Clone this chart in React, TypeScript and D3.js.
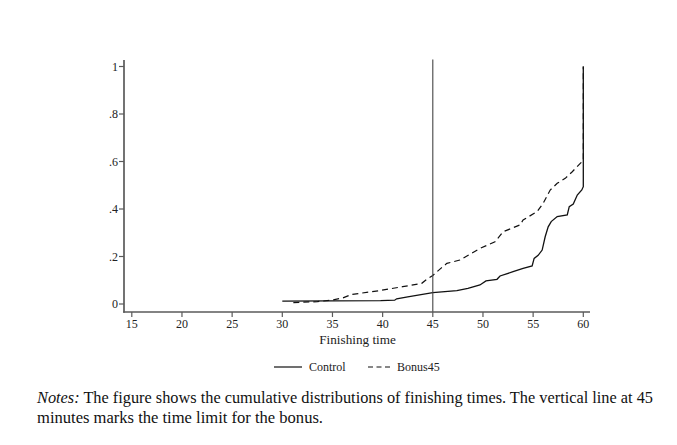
import React from "react";
import * as d3 from "d3";

// Cumulative share finished, by finishing time (minutes)
const controlTimes = [30, 39.8, 41.2, 41.4, 42.5, 45, 47.4, 48.5, 49.7, 50.3, 51.4, 51.7, 53.0, 54.0, 54.9, 55.1, 55.5, 55.9, 56.2, 56.5, 56.8, 57.4, 58.4, 58.6, 59.0, 59.4, 59.85, 60, 60];
const controlShare = [0.012, 0.014, 0.016, 0.022, 0.03, 0.048, 0.056, 0.066, 0.08, 0.097, 0.104, 0.118, 0.136, 0.15, 0.16, 0.192, 0.205, 0.227, 0.283, 0.325, 0.347, 0.368, 0.375, 0.41, 0.421, 0.459, 0.48, 0.494, 1.0];

const bonusTimes = [31.1, 33.5, 35, 36.0, 36.9, 39.8, 42.0, 43.9, 44.4, 45, 45.8, 46.4, 47.7, 49.7, 51.2, 52.0, 53.7, 54.0, 55.4, 56.0, 56.7, 57.4, 58.2, 58.9, 59.7, 60, 60];
const bonusShare = [0.006, 0.01, 0.017, 0.025, 0.04, 0.057, 0.073, 0.087, 0.104, 0.12, 0.15, 0.171, 0.185, 0.234, 0.262, 0.304, 0.333, 0.354, 0.389, 0.424, 0.48, 0.508, 0.529, 0.557, 0.592, 0.605, 1.0];

const xTicks = [15, 20, 25, 30, 35, 40, 45, 50, 55, 60];
const yTicks = [0, 0.2, 0.4, 0.6, 0.8, 1];
const bonusLimit = 45;

const seriesNames = ["Control", "Bonus45"];

const W = 677;
const H = 445;

export default function App() {
  const x = d3.scaleLinear().domain([15, 60]).range([131.8, 583.3]);
  const y = d3.scaleLinear().domain([0, 1]).range([304, 66.5]);

  const line = d3
    .line<[number, number]>()
    .x((d) => x(d[0]))
    .y((d) => y(d[1]));

  const controlPts = controlTimes.map((t, i) => [t, controlShare[i]] as [number, number]);
  const bonusPts = bonusTimes.map((t, i) => [t, bonusShare[i]] as [number, number]);

  const axisColor = "#5a5a5a";
  const font = "'Liberation Serif', 'Times New Roman', serif";
  const axisX = 124;
  const axisY = 312;

  const fmtY = (v: number) => (v === 0 ? "0" : v === 1 ? "1" : d3.format(".1f")(v).replace(/^0/, ""));

  return (
    <svg
      width={W}
      height={H}
      viewBox={`0 0 ${W} ${H}`}
      style={{ position: "absolute", left: 0, top: 0, background: "#fff" }}
      fontFamily={font}
    >
      <rect width={W} height={H} fill="#fff" />

      {/* curves */}
      <path d={line(bonusPts) || ""} fill="none" stroke="#111" strokeWidth={1.2} strokeDasharray="6,4" />
      <path d={line(controlPts) || ""} fill="none" stroke="#111" strokeWidth={1.3} />

      {/* bonus time limit */}
      <line x1={x(bonusLimit)} x2={x(bonusLimit)} y1={59.5} y2={axisY} stroke="#444" strokeWidth={1.1} />

      {/* y axis */}
      <line x1={axisX} x2={axisX} y1={60} y2={axisY + 0.8} stroke={axisColor} strokeWidth={1.7} />
      {yTicks.map((v) => (
        <g key={`y${v}`}>
          <line x1={axisX - 5} x2={axisX} y1={y(v)} y2={y(v)} stroke={axisColor} strokeWidth={1.2} />
          <text x={axisX - 6} y={y(v)} dy="0.35em" textAnchor="end" fontSize={12} fill="#222">
            {fmtY(v)}
          </text>
        </g>
      ))}

      {/* x axis */}
      <line x1={axisX - 0.8} x2={590} y1={axisY} y2={axisY} stroke={axisColor} strokeWidth={1.7} />
      {xTicks.map((t) => (
        <g key={`x${t}`}>
          <line x1={x(t)} x2={x(t)} y1={axisY} y2={axisY + 5} stroke={axisColor} strokeWidth={1.2} />
          <text x={x(t)} y={axisY + 16} textAnchor="middle" fontSize={12} fill="#222">
            {t}
          </text>
        </g>
      ))}
      <text x={(x(15) + x(60)) / 2} y={344} textAnchor="middle" fontSize={13.2} fill="#222">
        Finishing time
      </text>

      {/* legend */}
      <line x1={274} x2={302} y1={367} y2={367} stroke="#111" strokeWidth={1.2} />
      <text x={309} y={371} fontSize={12} fill="#222">
        {seriesNames[0]}
      </text>
      <line x1={368} x2={390} y1={367} y2={367} stroke="#111" strokeWidth={1.2} strokeDasharray="5,3.5" />
      <text x={397} y={371} fontSize={12} fill="#222">
        {seriesNames[1]}
      </text>

      {/* notes */}
      <text x={37} y={403} fontSize={16} fill="#111" textLength={616} lengthAdjust="spacingAndGlyphs">
        <tspan fontStyle="italic">Notes:</tspan>
        <tspan> The figure shows the cumulative distributions of finishing times. The vertical line at 45</tspan>
      </text>
      <text x={37} y={423} fontSize={16} fill="#111" textLength={286} lengthAdjust="spacingAndGlyphs">
        minutes marks the time limit for the bonus.
      </text>
    </svg>
  );
}
